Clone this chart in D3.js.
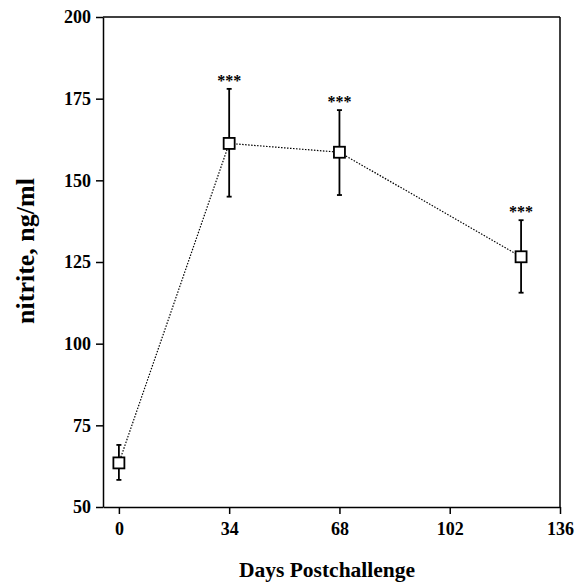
<!DOCTYPE html>
<html>
<head>
<meta charset="utf-8">
<script src="https://cdn.jsdelivr.net/npm/d3@7"></script>
<style>
  body { margin: 0; background: #fff; }
  svg text { font-family: "Liberation Serif", "Times New Roman", serif; font-weight: bold; fill: #000; }
</style>
</head>
<body>
<svg id="chart" width="576" height="584"></svg>
<script>
const days = [0, 34, 68, 124];
const nitrite = [63.5, 161.3, 158.6, 126.6];
const errHigh = [69, 178, 171.5, 137.8];
const errLow = [58.3, 145, 145.5, 115.6];
const stars = ["", "***", "***", "***"];
const xTicks = [0, 34, 68, 102, 136];
const yTicks = [50, 75, 100, 125, 150, 175, 200];

const svg = d3.select("#chart");
const plotLeft = 103, plotRight = 560, plotTop = 17, plotBottom = 507;

const x = d3.scaleLinear().domain([-4.9, 136]).range([plotLeft, plotRight]);
const y = d3.scaleLinear().domain([50, 200]).range([plotBottom, plotTop]);

// frame lines (top and right)
svg.append("line").attr("x1", plotLeft).attr("x2", plotRight).attr("y1", plotTop).attr("y2", plotTop)
  .attr("stroke", "#000").attr("stroke-width", 1.5);
svg.append("line").attr("x1", plotRight).attr("x2", plotRight).attr("y1", plotTop).attr("y2", plotBottom)
  .attr("stroke", "#000").attr("stroke-width", 1.5);

let xAxis = svg.append("g").attr("transform", `translate(0,${plotBottom})`)
  .call(d3.axisBottom(x).tickValues(xTicks).tickSize(7).tickPadding(8).tickSizeOuter(0));
let yAxis = svg.append("g").attr("transform", `translate(${plotLeft},0)`)
  .call(d3.axisLeft(y).tickValues(yTicks).tickSize(7).tickPadding(5).tickSizeOuter(0));

[xAxis, yAxis].forEach((a) => {
  a.selectAll("path,line").attr("stroke", "#000").attr("stroke-width", 1.5);
  a.selectAll("text").style("font-size", "18px").style("font-family", "Liberation Serif, serif").style("font-weight", "bold");
});

// dotted connecting line
let line = d3.line().x((d, i) => x(days[i])).y((d) => y(d));
svg.append("path").datum(nitrite).attr("d", line)
  .attr("fill", "none").attr("stroke", "#000").attr("stroke-width", 1.2)
  .attr("stroke-dasharray", "1.5,1.5");

// error bars
days.forEach((d, i) => {
  let cx = x(d);
  svg.append("line").attr("x1", cx).attr("x2", cx).attr("y1", y(errHigh[i])).attr("y2", y(errLow[i]))
    .attr("stroke", "#000").attr("stroke-width", 1.8);
  [errHigh[i], errLow[i]].forEach((v) => {
    svg.append("line").attr("x1", cx - 2.5).attr("x2", cx + 2.5).attr("y1", y(v)).attr("y2", y(v))
      .attr("stroke", "#000").attr("stroke-width", 1.8);
  });
  svg.append("text").attr("x", cx).attr("y", y(errHigh[i]) - 3)
    .attr("text-anchor", "middle").style("font-size", "16px").text(stars[i]);
});

// square markers
svg.selectAll("rect.pt").data(nitrite).enter().append("rect")
  .attr("class", "pt")
  .attr("x", (d, i) => x(days[i]) - 5.5)
  .attr("y", (d) => y(d) - 5.5)
  .attr("width", 11).attr("height", 11)
  .attr("fill", "#fff").attr("stroke", "#000").attr("stroke-width", 1.8);

// axis titles
svg.append("text").attr("x", 327).attr("y", 577).attr("text-anchor", "middle")
  .style("font-size", "21.5px").text("Days Postchallenge");
svg.append("text").attr("transform", "translate(34,251) rotate(-90)").attr("text-anchor", "middle")
  .style("font-size", "26px").text("nitrite, ng/ml");
</script>
</body>
</html>
